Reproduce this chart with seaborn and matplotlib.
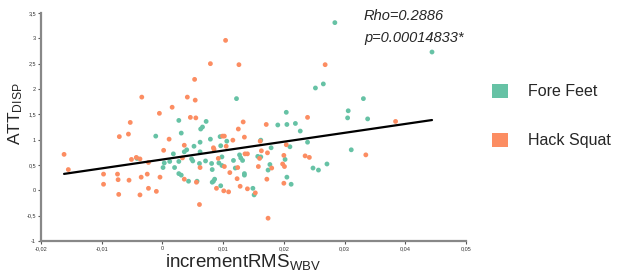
import numpy as np
import pandas as pd
import matplotlib
matplotlib.use("Agg")
import matplotlib.pyplot as plt
import seaborn as sns
from matplotlib.patches import Patch

# ---- data ----
fore_x = [-0.0011, -0.0042, 0.0003, 0.0001, 0.0012, 0.0122, 0.0027, 0.0072, 0.0066, 0.0063,
          0.0190, 0.0031, 0.0095, 0.0079, 0.0106, 0.0162, 0.0062, 0.0052, 0.0096, 0.0040,
          0.0036, 0.0179, 0.0062, 0.0018, 0.0127, 0.0157, 0.0162, 0.0129, 0.0132, 0.0098,
          0.0048, 0.0050, 0.0071, 0.0027, 0.0117, 0.0061, 0.0081, 0.0093, 0.0098, 0.0120,
          0.0177, 0.0174, 0.0020, 0.0082, 0.0135, 0.0135, 0.0027, 0.0031, 0.0043, 0.0057,
          0.0086, 0.0084, 0.0082, 0.0096, 0.0149, 0.0151, 0.0284, 0.0444, 0.0265, 0.0252,
          0.0331, 0.0306, 0.0204, 0.0305, 0.0338, 0.0205, 0.0219, 0.0227, 0.0210, 0.0239,
          0.0311, 0.0202, 0.0271, 0.0248, 0.0257, 0.0205, 0.0212]
fore_y = [1.07, 0.63, 0.54, 0.45, 0.57, 1.81, 1.38, 1.36, 1.25, 1.21,
          1.29, 1.13, 1.06, 1.01, 0.97, 0.99, 0.95, 0.87, 0.88, 0.80,
          0.76, 0.84, 0.76, 0.72, 0.70, 0.67, 0.66, 0.64, 0.59, 0.66,
          0.62, 0.58, 0.58, 0.57, 0.59, 0.53, 0.53, 0.54, 0.49, 0.44,
          0.51, 0.40, 0.45, 0.41, 0.33, 0.30, 0.33, 0.30, 0.18, 0.18,
          0.22, 0.18, 0.16, 0.09, 0.04, -0.09, 3.31, 2.73, 2.10, 2.02,
          1.81, 1.57, 1.54, 1.43, 1.41, 1.30, 1.32, 1.17, 0.86, 0.95,
          0.80, 0.61, 0.52, 0.44, 0.40, 0.26, 0.12]

hack_x = [-0.0162, -0.0155, -0.0034, -0.0005, -0.0053, -0.0056, -0.0071, 0.0011, 0.0002, -0.0051,
          -0.0043, -0.0037, -0.0023, -0.0097, -0.0074, -0.0073, -0.0055, -0.0035, -0.0025, -0.0004,
          -0.0097, -0.0023, -0.0010, -0.0072, -0.0037, 0.0104, 0.0079, 0.0126, 0.0053, 0.0041,
          0.0054, 0.0016, 0.0046, 0.0055, 0.0133, 0.0171, 0.0125, 0.0099, 0.0102, 0.0135,
          0.0116, 0.0161, 0.0036, 0.0105, 0.0084, 0.0085, 0.0173, 0.0163, 0.0136, 0.0140,
          0.0160, 0.0092, 0.0033, 0.0102, 0.0124, 0.0158, 0.0180, 0.0062, 0.0111, 0.0036,
          0.0056, 0.0123, 0.0172, 0.0089, 0.0101, 0.0109, 0.0128, 0.0140, 0.0153, 0.0061,
          0.0174, 0.0268, 0.0239, 0.0384, 0.0204, 0.0335, 0.0200, 0.0235, 0.0242, 0.0198,
          0.0201, 0.0200]
hack_y = [0.71, 0.41, 1.84, 1.52, 1.34, 1.11, 1.06, 1.01, 0.79, 0.61,
          0.65, 0.62, 0.55, 0.32, 0.32, 0.21, 0.20, 0.26, 0.32, 0.26,
          0.12, 0.04, -0.02, -0.08, -0.09, 2.96, 2.50, 2.48, 2.19, 1.84,
          1.78, 1.64, 1.44, 1.43, 1.35, 1.30, 1.21, 1.07, 1.07, 1.05,
          0.99, 0.97, 0.89, 0.87, 0.84, 0.81, 0.74, 0.78, 0.72, 0.72,
          0.63, 0.63, 0.64, 0.47, 0.45, 0.47, 0.44, 0.45, 0.35, 0.22,
          0.16, 0.23, 0.22, 0.04, -0.01, -0.03, 0.08, 0.03, -0.05, -0.28,
          -0.55, 2.48, 1.44, 1.36, 0.90, 0.70, 0.69, 0.68, 0.65, 0.52,
          0.47, 0.14]

groups = ["Fore Feet", "Hack Squat"]
colors = ["#66c2a5", "#fc8d62"]
x_ticks = [-0.02, -0.01, 0, 0.01, 0.02, 0.03, 0.04, 0.05]
y_ticks = [-1, -0.5, 0, 0.5, 1, 1.5, 2, 2.5, 3, 3.5]
stat_lines = ["Rho=0.2886", "p=0.00014833*"]

df = pd.DataFrame({
    "x": fore_x + hack_x,
    "y": fore_y + hack_y,
    "group": [groups[0]] * len(fore_x) + [groups[1]] * len(hack_x),
})

sns.set_theme(style="white")
plt.rcParams["font.family"] = ["Liberation Sans", "DejaVu Sans"]
plt.rcParams["mathtext.fontset"] = "custom"
plt.rcParams["mathtext.rm"] = "Liberation Sans"
plt.rcParams["mathtext.it"] = "Liberation Sans:italic"

fig = plt.figure(figsize=(6.34, 2.72), dpi=100)
ax = fig.add_axes([41 / 634, 1 - 241 / 272, (466 - 41) / 634, (241 - 13) / 272])

sns.scatterplot(data=df, x="x", y="y", hue="group", palette=colors, hue_order=groups,
                s=12, linewidth=0, ax=ax, legend=False, zorder=2)
sns.regplot(data=df, x="x", y="y", scatter=False, ci=None, truncate=True,
            line_kws=dict(color="black", lw=1.6, zorder=3), ax=ax)

ax.set_xlim(-0.02, 0.05)
ax.set_ylim(-1, 3.5)
ax.set_xticks(x_ticks)
ax.set_yticks(y_ticks)

def fmt(v):
    s = f"{v:g}"
    return s.replace(".", ",")

ax.set_xticklabels([fmt(v) for v in x_ticks], fontsize=4, color="#333333")
ax.set_yticklabels([fmt(v) for v in y_ticks], fontsize=4, color="#333333")
ax.tick_params(axis="both", which="both", direction="out", length=2, width=0.8,
               color="#555555", pad=1.5, bottom=True, left=True)

for side in ["top", "right"]:
    ax.spines[side].set_visible(False)
for side in ["left", "bottom"]:
    ax.spines[side].set_color("#888888")
    ax.spines[side].set_linewidth(1.6)

ax.set_xlabel(r"incrementRMS$_{\mathrm{WBV}}$", fontsize=13.5, labelpad=1)
ax.xaxis.label.set_x((243 - 41) / 425)
ax.set_ylabel(r"ATT$_{\mathrm{DISP}}$", fontsize=12.5, labelpad=1)
ax.yaxis.label.set_y(0.56)

fig.text(364 / 634, 1 - 16 / 272, stat_lines[0], fontsize=10.5, style="italic", va="center")
fig.text(364 / 634, 1 - 38 / 272, stat_lines[1], fontsize=10.5, style="italic", va="center")

handles = [Patch(facecolor=c, edgecolor="none") for c in colors]
fig.legend(handles, groups, loc="center left", bbox_to_anchor=(478 / 634, 1 - 116 / 272),
           frameon=False, fontsize=11.5, handlelength=1.0, handleheight=1.0,
           labelspacing=2.1, handletextpad=1.2)

fig.savefig("out.png", dpi=100)
